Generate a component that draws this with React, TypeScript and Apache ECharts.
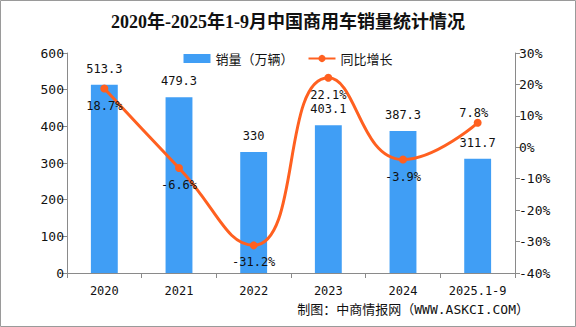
import React, { useEffect, useRef } from "react";
import * as echarts from "echarts";

const categories = ["2020", "2021", "2022", "2023", "2024", "2025.1-9"];
const salesValues = [513.3, 479.3, 330, 403.1, 387.3, 311.7];
const growthValues = [18.7, -6.6, -31.2, 22.1, -3.9, 7.8];
const growthLabelPositions = ["bottom", "bottom", "bottom", "bottom", "bottom", "top"];

const titleText = "2020年-2025年1-9月中国商用车销量统计情况";
const sourceText = "制图：中商情报网（WWW.ASKCI.COM）";
const seriesNames = ["销量（万辆）", "同比增长"];

const MONO = '"DejaVu Sans Mono", "Noto Sans CJK SC", monospace';
const BAR_COLOR = "#409EF5";
const LINE_COLOR = "#FF6020";
const AXIS_COLOR = "#8a8a8a";

export default function App() {
  const ref = useRef<HTMLDivElement>(null);

  useEffect(() => {
    document.body.style.margin = "0";
    const chart = echarts.init(ref.current!, null, { renderer: "svg" });
    chart.setOption({
      animation: false,
      backgroundColor: "#ffffff",
      title: {
        text: titleText,
        left: "center",
        top: 8,
        textStyle: {
          fontFamily: '"Liberation Serif", "Noto Sans CJK SC", serif',
          fontWeight: "bold",
          fontSize: 18,
          color: "#111",
        },
      },
      legend: {
        top: 47,
        left: "center",
        itemWidth: 27,
        itemHeight: 9,
        itemGap: 14,
        textStyle: {
          fontFamily: '"Noto Sans CJK SC", sans-serif',
          fontSize: 13,
          color: "#111",
        },
        data: [
          { name: seriesNames[0], icon: "rect" },
          { name: seriesNames[1] },
        ],
      },
      grid: { left: 67, right: 61, top: 53, bottom: 54, containLabel: false },
      xAxis: {
        type: "category",
        data: categories,
        axisLine: { lineStyle: { color: AXIS_COLOR } },
        axisTick: { show: true, length: 5, lineStyle: { color: AXIS_COLOR } },
        axisLabel: {
          color: "#111",
          fontFamily: MONO,
          fontSize: 12,
          margin: 12,
          interval: 0,
        },
      },
      yAxis: [
        {
          type: "value",
          min: 0,
          max: 600,
          interval: 100,
          splitLine: { show: false },
          axisLine: { show: true, lineStyle: { color: AXIS_COLOR } },
          axisTick: { show: true, length: 5, lineStyle: { color: AXIS_COLOR } },
          axisLabel: { color: "#111", fontFamily: MONO, fontSize: 13, margin: 3 },
        },
        {
          type: "value",
          min: -40,
          max: 30,
          interval: 10,
          splitLine: { show: false },
          axisLine: { show: true, lineStyle: { color: AXIS_COLOR } },
          axisTick: { show: true, length: 5, lineStyle: { color: AXIS_COLOR } },
          axisLabel: {
            color: "#111",
            fontFamily: MONO,
            fontSize: 13,
            margin: 4,
            formatter: "{value}%",
          },
        },
      ],
      series: [
        {
          name: seriesNames[0],
          type: "bar",
          data: salesValues,
          barWidth: "36%",
          itemStyle: { color: BAR_COLOR },
          label: {
            show: true,
            position: "top",
            distance: 10,
            color: "#111",
            fontFamily: MONO,
            fontSize: 12,
          },
          z: 2,
        },
        {
          name: seriesNames[1],
          type: "line",
          yAxisIndex: 1,
          smooth: 0.5,
          symbol: "circle",
          symbolSize: 8,
          lineStyle: { color: LINE_COLOR, width: 3 },
          itemStyle: { color: LINE_COLOR },
          data: growthValues.map((v, i) => ({
            value: v,
            label: {
              position: growthLabelPositions[i],
              distance: growthLabelPositions[i] === "top" ? 0 : 8,
              offset: growthLabelPositions[i] === "top" ? [-4, 0] : [0, -1],
            },
          })),
          label: {
            show: true,
            color: "#111",
            fontFamily: MONO,
            fontSize: 12,
            formatter: "{c}%",
          },
          z: 3,
        },
      ],
      graphic: [
        {
          type: "text",
          right: 47,
          top: 303,
          style: {
            text: sourceText,
            fontFamily: MONO,
            fontSize: 13,
            fill: "#111",
          },
        },
        {
          type: "rect",
          shape: { x: 0.5, y: 0.5, width: 575, height: 326 },
          style: { fill: "none", stroke: "#9a9a9a", lineWidth: 1 },
          silent: true,
          z: 100,
        },
      ],
    });
    return () => chart.dispose();
  }, []);

  return <div ref={ref} style={{ width: 576, height: 327 }} />;
}
